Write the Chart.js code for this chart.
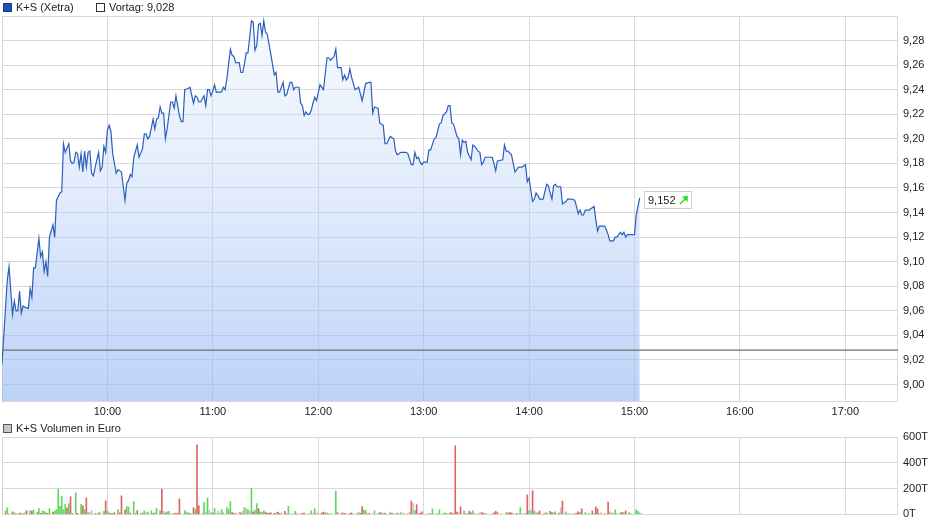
<!DOCTYPE html>
<html>
<head>
<meta charset="utf-8">
<script src="https://cdn.jsdelivr.net/npm/chart.js@4/dist/chart.umd.min.js"></script>
<style>
  body { margin: 0; background: #fff; }
  #wrap { position: relative; width: 940px; height: 526px; font-family: "Liberation Sans", Arial, sans-serif; font-size: 11px; color: #222; }
  canvas { position: absolute; left: 0; }
  .lg { position: absolute; line-height: 13px; white-space: nowrap; }
  .box { display: inline-block; width: 7px; height: 7px; border: 1px solid #333; vertical-align: -1px; margin-right: 4px; }
</style>
</head>
<body>
<div id="wrap">
  <canvas id="price" width="940" height="420" style="top:0"></canvas>
  <canvas id="volume" width="940" height="106" style="top:420px"></canvas>
  <div class="lg" style="left:3px;top:1px"><span class="box" style="background:#1f50b0;border-color:#163d86"></span>K+S (Xetra)</div>
  <div class="lg" style="left:96px;top:1px"><span class="box" style="background:#fff"></span>Vortag: 9,028</div>
  <div class="lg" style="left:3px;top:422px"><span class="box" style="background:#c8c8c8;border-color:#555"></span>K+S Volumen in Euro</div>
</div>
<script>
const sessionStart = '09:00';
const sessionEnd = '17:30';
const timeTicks = ['10:00', '11:00', '12:00', '13:00', '14:00', '15:00', '16:00', '17:00'];
const priceTicks = ['9,00', '9,02', '9,04', '9,06', '9,08', '9,10', '9,12', '9,14', '9,16', '9,18', '9,20', '9,22', '9,24', '9,26', '9,28'];
const volumeTicks = ['0T', '200T', '400T', '600T'];
const vortag = 9.028;

// minutes after 09:00
const priceTimes = [
  0, 3, 4, 6, 7, 8, 9, 10, 11, 12, 13, 15,
  16, 17, 18, 19, 21, 22, 23, 24, 25, 26, 27, 29,
  30, 31, 33, 34, 35, 36, 38, 39, 40, 41, 42, 43,
  44, 45, 46, 47, 48, 49, 50, 51, 52, 54, 55, 56,
  57, 58, 59, 60, 61, 62, 63, 65, 66, 68, 70, 71,
  72, 73, 74, 75, 77, 78, 80, 81, 82, 83, 84, 86,
  87, 88, 89, 90, 91, 92, 93, 94, 96, 97, 98, 99,
  101, 102, 103, 104, 106, 107, 109, 110, 111, 112, 113, 115,
  116, 117, 118, 119, 120, 121, 122, 124, 125, 126, 127, 128,
  130, 131, 132, 133, 135, 136, 137, 138, 139, 140, 142, 143,
  144, 145, 146, 147, 148, 149, 150, 151, 153, 155, 156, 157,
  158, 160, 161, 162, 164, 165, 166, 167, 169, 170, 171, 172,
  173, 174, 175, 176, 177, 178, 179, 181, 183, 185, 186, 187,
  189, 190, 191, 193, 194, 195, 196, 197, 198, 199, 201, 203,
  205, 207, 209, 210, 211, 212, 214, 215, 217, 218, 219, 221,
  223, 224, 225, 227, 230, 231, 233, 234, 235, 236, 237, 238,
  239, 240, 242, 243, 244, 246, 247, 249, 250, 251, 253, 254,
  255, 256, 257, 259, 260, 261, 262, 263, 264, 265, 267, 268,
  269, 271, 272, 273, 274, 275, 278, 279, 280, 281, 282, 285,
  286, 287, 288, 290, 291, 292, 294, 296, 298, 299, 300, 301,
  302, 303, 304, 305, 306, 308, 309, 310, 311, 312, 313, 314,
  315, 316, 318, 319, 321, 322, 324, 326, 327, 328, 329, 330,
  331, 332, 334, 336, 337, 338, 339, 340, 341, 343, 344, 345,
  346, 348, 349, 350, 352, 353, 354, 355, 356, 358, 360, 361,
  362, 363
];
const priceValues = [
  9.017, 9.085, 9.096, 9.057, 9.068, 9.060, 9.060, 9.076, 9.058, 9.064, 9.063, 9.062,
  9.078, 9.071, 9.095, 9.095, 9.119, 9.104, 9.108, 9.092, 9.100, 9.088, 9.120, 9.130,
  9.120, 9.150, 9.156, 9.157, 9.196, 9.189, 9.196, 9.182, 9.180, 9.181, 9.189, 9.188,
  9.177, 9.188, 9.173, 9.190, 9.177, 9.189, 9.190, 9.172, 9.170, 9.183, 9.189, 9.174,
  9.177, 9.194, 9.189, 9.207, 9.211, 9.206, 9.188, 9.172, 9.175, 9.173, 9.150, 9.164,
  9.166, 9.171, 9.169, 9.185, 9.195, 9.185, 9.192, 9.204, 9.204, 9.200, 9.202, 9.216,
  9.208, 9.216, 9.217, 9.226, 9.221, 9.221, 9.200, 9.208, 9.230, 9.230, 9.225, 9.235,
  9.219, 9.214, 9.214, 9.240, 9.241, 9.242, 9.229, 9.235, 9.234, 9.230, 9.230, 9.235,
  9.227, 9.240, 9.240, 9.235, 9.239, 9.244, 9.238, 9.238, 9.238, 9.242, 9.240, 9.249,
  9.273, 9.268, 9.267, 9.262, 9.262, 9.254, 9.254, 9.261, 9.270, 9.270, 9.296, 9.295,
  9.272, 9.276, 9.293, 9.294, 9.284, 9.296, 9.287, 9.285, 9.269, 9.252, 9.254, 9.238,
  9.238, 9.246, 9.235, 9.236, 9.246, 9.246, 9.240, 9.242, 9.242, 9.229, 9.227, 9.219,
  9.222, 9.220, 9.220, 9.223, 9.229, 9.234, 9.231, 9.244, 9.240, 9.266, 9.266, 9.264,
  9.267, 9.273, 9.258, 9.258, 9.248, 9.252, 9.248, 9.250, 9.257, 9.250, 9.240, 9.242,
  9.231, 9.245, 9.246, 9.246, 9.221, 9.226, 9.225, 9.213, 9.211, 9.196, 9.196, 9.202,
  9.200, 9.190, 9.187, 9.189, 9.189, 9.188, 9.179, 9.179, 9.189, 9.184, 9.185, 9.181,
  9.179, 9.181, 9.181, 9.191, 9.191, 9.200, 9.201, 9.212, 9.213, 9.219, 9.222, 9.227,
  9.227, 9.213, 9.212, 9.202, 9.200, 9.187, 9.199, 9.197, 9.198, 9.189, 9.183, 9.195,
  9.194, 9.190, 9.189, 9.179, 9.181, 9.185, 9.185, 9.185, 9.180, 9.174, 9.182, 9.183,
  9.195, 9.190, 9.190, 9.187, 9.180, 9.173, 9.177, 9.177, 9.179, 9.165, 9.168, 9.158,
  9.149, 9.151, 9.156, 9.154, 9.151, 9.151, 9.157, 9.163, 9.162, 9.156, 9.151, 9.162,
  9.163, 9.161, 9.161, 9.147, 9.149, 9.151, 9.151, 9.150, 9.145, 9.139, 9.142, 9.138,
  9.138, 9.142, 9.142, 9.144, 9.145, 9.134, 9.125, 9.129, 9.129, 9.129, 9.126, 9.122,
  9.117, 9.117, 9.120, 9.120, 9.124, 9.122, 9.124, 9.120, 9.122, 9.122, 9.122, 9.138,
  9.145, 9.152
];

// volume per minute in thousand euro; dir: 1 up, -1 down, 0 unchanged
const volTimes = [
  0, 2, 3, 4, 6, 7, 8, 9, 10, 11,
  12, 13, 14, 16, 17, 18, 20, 21, 22, 23,
  24, 25, 26, 27, 29, 30, 31, 32, 33, 34,
  35, 36, 37, 38, 39, 40, 42, 43, 45, 46,
  47, 48, 49, 50, 51, 53, 54, 55, 56, 58,
  59, 60, 61, 62, 63, 64, 66, 67, 68, 70,
  71, 72, 73, 75, 76, 77, 79, 80, 81, 82,
  83, 85, 86, 87, 88, 90, 91, 92, 93, 94,
  95, 96, 98, 99, 100, 101, 102, 104, 105, 106,
  107, 109, 110, 111, 112, 114, 115, 116, 117, 118,
  119, 120, 121, 122, 123, 124, 125, 126, 128, 129,
  130, 131, 132, 133, 135, 136, 137, 138, 139, 140,
  141, 142, 143, 144, 145, 146, 147, 148, 149, 150,
  151, 152, 153, 155, 156, 157, 158, 159, 161, 162,
  163, 164, 166, 167, 168, 170, 171, 172, 174, 175,
  176, 177, 178, 179, 180, 182, 183, 184, 185, 186,
  187, 188, 190, 191, 193, 194, 195, 196, 198, 199,
  201, 202, 203, 204, 205, 206, 207, 208, 209, 211,
  212, 214, 215, 216, 217, 218, 220, 221, 222, 223,
  225, 226, 227, 228, 229, 231, 232, 233, 234, 235,
  236, 237, 238, 239, 241, 243, 244, 245, 247, 248,
  249, 251, 252, 253, 255, 256, 257, 258, 259, 260,
  261, 263, 264, 265, 266, 267, 268, 269, 271, 272,
  273, 274, 275, 276, 279, 280, 281, 282, 284, 287,
  288, 289, 290, 291, 293, 294, 295, 296, 297, 298,
  299, 300, 301, 302, 303, 304, 305, 306, 308, 309,
  310, 312, 313, 314, 315, 317, 318, 319, 321, 322,
  323, 325, 326, 327, 328, 329, 330, 332, 333, 334,
  336, 337, 338, 339, 340, 341, 343, 344, 345, 346,
  347, 348, 349, 350, 352, 353, 354, 355, 357, 358,
  360, 361, 362, 363, 364
];
const volValues = [
  190, 28, 51, 8, 20, 13, 5, 5, 10, 8,
  10, 15, 30, 30, 25, 33, 18, 46, 8, 25,
  23, 13, 8, 46, 18, 25, 38, 197, 63, 139,
  38, 78, 51, 84, 139, 8, 167, 8, 78, 66,
  38, 129, 15, 15, 30, 8, 5, 13, 18, 23,
  106, 28, 13, 8, 8, 15, 38, 13, 144, 35,
  61, 56, 10, 99, 8, 30, 8, 13, 28, 13,
  18, 28, 8, 13, 46, 28, 197, 23, 10, 20,
  23, 8, 8, 10, 8, 121, 3, 30, 18, 13,
  8, 53, 38, 539, 68, 8, 91, 20, 129, 30,
  13, 10, 46, 8, 23, 13, 38, 13, 53, 38,
  99, 15, 8, 13, 18, 13, 25, 53, 46, 38,
  25, 205, 20, 33, 84, 46, 20, 15, 28, 18,
  8, 10, 13, 8, 15, 18, 8, 13, 23, 8,
  63, 5, 8, 23, 8, 5, 8, 10, 5, 8,
  28, 10, 43, 5, 18, 13, 18, 10, 13, 8,
  3, 5, 180, 15, 13, 10, 8, 10, 8, 13,
  5, 8, 15, 8, 61, 33, 30, 10, 8, 5,
  28, 8, 15, 10, 10, 10, 5, 18, 8, 8,
  10, 5, 15, 10, 8, 8, 18, 104, 84, 30,
  76, 8, 8, 20, 3, 8, 8, 43, 5, 8,
  35, 8, 13, 8, 13, 13, 8, 531, 18, 10,
  58, 28, 8, 8, 23, 13, 28, 8, 8, 10,
  15, 10, 8, 5, 3, 13, 23, 15, 5, 15,
  10, 15, 13, 8, 8, 5, 53, 5, 5, 8,
  152, 28, 33, 182, 25, 18, 10, 28, 5, 10,
  15, 23, 15, 13, 20, 10, 51, 104, 20, 5,
  8, 5, 5, 10, 20, 15, 43, 15, 5, 8,
  28, 8, 58, 43, 5, 13, 5, 3, 96, 20,
  13, 8, 35, 8, 15, 15, 15, 28, 15, 8,
  5, 35, 23, 10, 3
];
const volDir = [
  0, 1, 1, 0, -1, 1, -1, 0, -1, 1,
  0, 0, -1, 1, -1, 1, 1, 1, -1, 1,
  1, 1, -1, 1, -1, 1, 1, 1, 1, 1,
  1, 1, -1, 1, -1, 1, 1, -1, 1, -1,
  1, -1, 1, 0, 0, 1, 0, -1, 0, 1,
  -1, 1, 1, -1, 1, -1, 1, -1, -1, -1,
  1, 1, -1, 1, 1, -1, 1, 1, 1, 0,
  1, 1, -1, 1, 1, 1, -1, 0, -1, 1,
  1, 0, -1, 1, -1, -1, 0, 1, 1, 1,
  -1, -1, 1, -1, -1, 0, 1, 0, 1, 0,
  1, -1, 1, 0, 0, 0, 1, 1, 1, 1,
  1, -1, -1, 0, 0, -1, 0, 1, 0, 1,
  0, 1, -1, 1, 1, -1, 1, 1, 1, -1,
  -1, -1, -1, -1, 0, -1, -1, 0, -1, 1,
  1, 0, 0, 1, 0, 0, -1, -1, 0, 0,
  1, 0, 1, -1, 0, -1, -1, -1, 1, 0,
  1, 0, 1, -1, 0, -1, -1, 0, -1, -1,
  0, 0, 1, -1, -1, 1, 1, 0, -1, 0,
  1, 0, -1, -1, 0, -1, 0, 1, -1, 0,
  -1, 0, 1, 0, 0, 0, 0, -1, 0, 1,
  -1, 0, -1, -1, 0, 1, 0, 1, 0, 0,
  1, 0, 1, 1, -1, -1, 0, -1, -1, 0,
  -1, 1, 0, 0, -1, -1, 1, 0, 0, 0,
  -1, -1, 1, 0, 0, -1, -1, -1, 0, 1,
  -1, -1, -1, 0, -1, 0, 1, 0, 0, 1,
  -1, 1, 0, -1, 1, 0, -1, -1, 0, 1,
  1, -1, -1, 1, 1, -1, 0, -1, 1, 0,
  0, 0, -1, -1, -1, 1, -1, 1, 0, 1,
  -1, 1, -1, -1, 1, 0, -1, 0, -1, 0,
  0, 1, 1, 0, 1, -1, 1, -1, 1, 0,
  0, 1, 1, 1, 1
];

const toMin = s => { const [h, m] = s.split(':').map(Number); return h * 60 + m; };
const minOf = s => toMin(s) - toMin(sessionStart);
const num = s => parseFloat(s.replace(',', '.').replace('T', ''));
const xMax = minOf(sessionEnd);

Chart.defaults.font.family = '"Liberation Sans", Arial, sans-serif';
Chart.defaults.font.size = 11;
Chart.defaults.color = '#222';

const gridColor = '#d9d9d9';

// light frame round each plot area
const frame = {
  id: 'frame',
  beforeDatasetsDraw(chart) {
    const a = chart.chartArea, c = chart.ctx;
    c.save();
    c.strokeStyle = gridColor;
    c.lineWidth = 1;
    c.strokeRect(Math.round(a.left) + 0.5, Math.round(a.top) + 0.5, Math.round(a.right - a.left) - 1, Math.round(a.bottom - a.top));
    c.restore();
  }
};

// box with the last price next to the end of the line
const lastLabel = {
  id: 'lastLabel',
  afterDatasetsDraw(chart) {
    const pts = chart.getDatasetMeta(1).data;
    const p = pts[pts.length - 1];
    const c = chart.ctx;
    const txt = priceValues[priceValues.length - 1].toFixed(3).replace('.', ',');
    const x = Math.round(p.x) + 4, y = Math.round(p.y) - 7;
    c.save();
    c.fillStyle = '#fff';
    c.strokeStyle = '#cfcfcf';
    c.fillRect(x, y, 47, 17);
    c.strokeRect(x + 0.5, y + 0.5, 47, 17);
    c.fillStyle = '#222';
    c.font = '11px "Liberation Sans", Arial, sans-serif';
    c.textBaseline = 'alphabetic';
    c.fillText(txt, x + 4, y + 13);
    c.strokeStyle = '#22dd22';
    c.fillStyle = '#22dd22';
    c.lineWidth = 1.5;
    c.beginPath();
    c.moveTo(x + 36, y + 13);
    c.lineTo(x + 42, y + 7);
    c.stroke();
    c.beginPath();
    c.moveTo(x + 44, y + 5);
    c.lineTo(x + 38, y + 5.5);
    c.lineTo(x + 43.5, y + 11);
    c.closePath();
    c.fill();
    c.restore();
  }
};

function areaFill(context) {
  const a = context.chart.chartArea;
  if (!a) return 'rgba(0,0,0,0)';
  const g = context.chart.ctx.createLinearGradient(0, a.top, 0, a.bottom);
  g.addColorStop(0, 'rgba(225,235,252,0.3)');
  g.addColorStop(1, 'rgba(145,182,243,0.62)');
  return g;
}

new Chart(document.getElementById('price'), {
  type: 'line',
  data: {
    datasets: [
      {
        data: [{ x: 0, y: vortag }, { x: xMax, y: vortag }],
        borderColor: '#707070',
        borderWidth: 1.3,
        pointRadius: 0,
        fill: false
      },
      {
        data: priceTimes.map((t, i) => ({ x: t, y: priceValues[i] })),
        borderColor: '#2b5fbd',
        borderWidth: 1.2,
        pointRadius: 0,
        tension: 0,
        fill: 'start',
        backgroundColor: areaFill
      }
    ]
  },
  options: {
    responsive: false,
    animation: false,
    events: [],
    layout: { padding: { left: 2, top: 16, right: 0, bottom: 0 } },
    plugins: { legend: { display: false }, tooltip: { enabled: false } },
    scales: {
      x: {
        type: 'linear',
        min: 0,
        max: xMax,
        afterBuildTicks: s => { s.ticks = timeTicks.map(l => ({ value: minOf(l) })); },
        afterFit: s => { s.height = 19; },
        ticks: { callback: (v, i) => timeTicks[i], padding: 4, maxRotation: 0, autoSkip: false },
        grid: { color: gridColor, drawTicks: false },
        border: { display: false }
      },
      y: {
        position: 'right',
        min: 8.9866,
        max: 9.30,
        afterBuildTicks: s => { s.ticks = priceTicks.map(l => ({ value: num(l) })); },
        afterFit: s => { s.width = 42; },
        ticks: { callback: (v, i) => priceTicks[i], padding: 5, autoSkip: false },
        grid: { color: gridColor, drawTicks: false },
        border: { display: false }
      }
    }
  },
  plugins: [frame, lastLabel]
});

const dirColor = d => d > 0 ? '#5fd85a' : d < 0 ? '#e26262' : '#c2c2c2';

new Chart(document.getElementById('volume'), {
  type: 'bar',
  data: {
    datasets: [{
      data: volTimes.map((t, i) => ({ x: t, y: volValues[i] })),
      backgroundColor: volDir.map(dirColor),
      barThickness: 1,
      borderWidth: 0
    }]
  },
  options: {
    responsive: false,
    animation: false,
    events: [],
    layout: { padding: { left: 2, top: 17, right: 0, bottom: 0 } },
    plugins: { legend: { display: false }, tooltip: { enabled: false } },
    scales: {
      x: {
        type: 'linear',
        min: 0,
        max: xMax,
        offset: false,
        afterBuildTicks: s => { s.ticks = timeTicks.map(l => ({ value: minOf(l) })); },
        afterFit: s => { s.height = 10; },
        ticks: { display: false },
        grid: { color: gridColor, drawTicks: false, offset: false },
        border: { display: false }
      },
      y: {
        position: 'right',
        min: 0,
        max: 600,
        afterBuildTicks: s => { s.ticks = volumeTicks.map(l => ({ value: num(l) })); },
        afterFit: s => { s.width = 42; },
        ticks: { callback: (v, i) => volumeTicks[i], padding: 5, autoSkip: false },
        grid: { color: gridColor, drawTicks: false },
        border: { display: false }
      }
    }
  },
  plugins: [frame]
});
</script>
</body>
</html>
